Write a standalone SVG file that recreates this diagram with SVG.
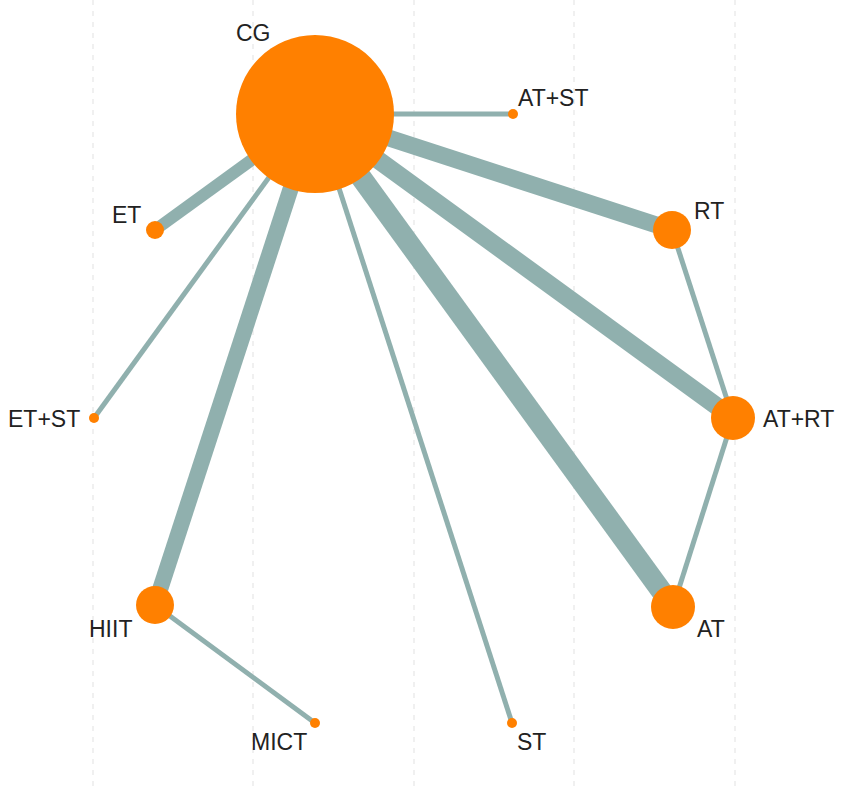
<svg xmlns="http://www.w3.org/2000/svg" width="851" height="786" viewBox="0 0 851 786">
<style>
.grid{stroke:#ececec;stroke-width:1.5;stroke-dasharray:5 6;fill:none}
.edge{stroke:#90b0ae;stroke-linecap:butt;fill:none}
.node{fill:#ff8000}
.lbl{font-family:"Liberation Sans",Arial,sans-serif;font-size:23px;fill:#222}
</style>
<rect width="851" height="786" fill="#ffffff"/>
<g id="grid">
<line class="grid" x1="93" y1="0" x2="93" y2="786"/>
<line class="grid" x1="253" y1="0" x2="253" y2="786"/>
<line class="grid" x1="414" y1="0" x2="414" y2="786"/>
<line class="grid" x1="574" y1="0" x2="574" y2="786"/>
<line class="grid" x1="735" y1="0" x2="735" y2="786"/>
</g>
<g id="connectors">
<line class="edge" x1="315" y1="114" x2="513" y2="114" stroke-width="5"/>
<line class="edge" x1="315" y1="114" x2="672" y2="230" stroke-width="17"/>
<line class="edge" x1="315" y1="114" x2="733" y2="418" stroke-width="18"/>
<line class="edge" x1="315" y1="114" x2="673" y2="607" stroke-width="21"/>
<line class="edge" x1="315" y1="114" x2="512" y2="723" stroke-width="5"/>
<line class="edge" x1="315" y1="114" x2="155" y2="605" stroke-width="16"/>
<line class="edge" x1="315" y1="114" x2="94" y2="418" stroke-width="5"/>
<line class="edge" x1="315" y1="114" x2="155" y2="230" stroke-width="12"/>
<line class="edge" x1="155" y1="605" x2="315" y2="723" stroke-width="5"/>
<line class="edge" x1="672" y1="230" x2="733" y2="418" stroke-width="5"/>
<line class="edge" x1="733" y1="418" x2="673" y2="607" stroke-width="5"/>
</g>
<g id="node-CG"><circle class="node" cx="315" cy="114" r="79"/><text class="lbl" x="236" y="41">CG</text></g>
<g id="node-ATST"><circle class="node" cx="513" cy="114" r="5"/><text class="lbl" x="518" y="106">AT+ST</text></g>
<g id="node-RT"><circle class="node" cx="672" cy="230" r="19"/><text class="lbl" x="694" y="219">RT</text></g>
<g id="node-ATRT"><circle class="node" cx="733" cy="418" r="22"/><text class="lbl" x="763" y="427">AT+RT</text></g>
<g id="node-AT"><circle class="node" cx="673" cy="607" r="22"/><text class="lbl" x="697" y="637">AT</text></g>
<g id="node-ET"><circle class="node" cx="155" cy="230" r="9"/><text class="lbl" x="112" y="223">ET</text></g>
<g id="node-ETST"><circle class="node" cx="94" cy="418" r="5"/><text class="lbl" x="8" y="427">ET+ST</text></g>
<g id="node-HIIT"><circle class="node" cx="155" cy="605" r="19"/><text class="lbl" x="89" y="637">HIIT</text></g>
<g id="node-MICT"><circle class="node" cx="315" cy="723" r="5"/><text class="lbl" x="251" y="750">MICT</text></g>
<g id="node-ST"><circle class="node" cx="512" cy="723" r="5"/><text class="lbl" x="517" y="750">ST</text></g>
</svg>
